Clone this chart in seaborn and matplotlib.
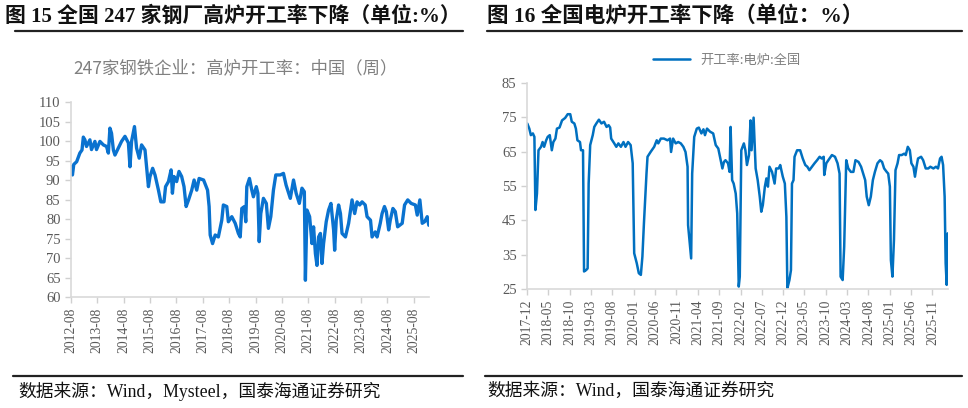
import matplotlib
matplotlib.use("Agg")
import matplotlib.pyplot as plt
import matplotlib.dates as mdates
import numpy as np
import pandas as pd
import seaborn as sns


# 247 steel mills, blast furnace utilisation (%), weekly
bf_years = [
	2012.58, 2012.64, 2012.69, 2012.80, 2012.92, 2013.00, 2013.05, 2013.11, 2013.17, 2013.30,
	2013.36, 2013.49, 2013.55, 2013.68, 2013.81, 2013.93, 2014.00, 2014.06, 2014.12, 2014.19,
	2014.25, 2014.38, 2014.50, 2014.63, 2014.76, 2014.82, 2014.88, 2014.99, 2015.07, 2015.17,
	2015.26, 2015.39, 2015.45, 2015.52, 2015.58, 2015.68, 2015.77, 2015.90, 2015.99, 2016.11,
	2016.17, 2016.28, 2016.38, 2016.43, 2016.49, 2016.59, 2016.68, 2016.78, 2016.87, 2016.95,
	2017.04, 2017.16, 2017.25, 2017.35, 2017.44, 2017.61, 2017.76, 2017.82, 2017.86, 2017.95,
	2018.05, 2018.17, 2018.30, 2018.36, 2018.49, 2018.55, 2018.68, 2018.81, 2018.93, 2019.00,
	2019.06, 2019.16, 2019.21, 2019.25, 2019.35, 2019.44, 2019.50, 2019.61, 2019.67, 2019.72,
	2019.78, 2019.88, 2019.99, 2020.07, 2020.16, 2020.26, 2020.35, 2020.52, 2020.64, 2020.74,
	2020.90, 2021.02, 2021.12, 2021.24, 2021.34, 2021.43, 2021.47, 2021.53, 2021.63, 2021.72,
	2021.78, 2021.85, 2021.91, 2021.97, 2022.04, 2022.10, 2022.16, 2022.26, 2022.35, 2022.44,
	2022.54, 2022.58, 2022.64, 2022.73, 2022.80, 2022.86, 2022.99, 2023.11, 2023.24, 2023.34,
	2023.43, 2023.53, 2023.62, 2023.74, 2023.81, 2023.94, 2024.00, 2024.12, 2024.19, 2024.31,
	2024.38, 2024.47, 2024.54, 2024.63, 2024.69, 2024.79, 2024.88, 2024.97, 2025.14, 2025.23,
	2025.35, 2025.48, 2025.64, 2025.71, 2025.81, 2025.90, 2025.99, 2026.09, 2026.15,
]
bf_rate = [
	93.5, 91.3, 94.0, 94.7, 96.9, 97.7, 101.0, 100.3, 98.6, 100.3,
	97.8, 99.9, 97.8, 99.9, 99.0, 98.6, 96.9, 103.3, 102.0, 97.7,
	96.4, 98.2, 99.9, 101.2, 99.5, 93.4, 99.9, 103.7, 98.2, 95.6,
	99.0, 97.7, 93.4, 88.3, 90.9, 93.0, 91.3, 87.4, 84.4, 84.4,
	88.3, 89.6, 92.6, 86.6, 90.9, 89.6, 92.2, 90.9, 88.3, 83.2,
	84.9, 87.4, 90.0, 87.4, 90.4, 90.0, 87.4, 83.2, 75.9, 73.7,
	75.9, 75.4, 79.7, 83.6, 83.2, 79.3, 80.6, 78.9, 76.3, 75.4,
	82.7, 83.2, 79.3, 88.3, 90.4, 87.4, 85.7, 88.3, 86.6, 74.2,
	81.4, 85.3, 84.0, 77.6, 80.6, 87.4, 91.3, 91.3, 91.7, 88.7,
	85.3, 90.0, 86.6, 84.0, 87.9, 87.0, 64.3, 82.3, 80.6, 73.7,
	78.0, 71.1, 68.1, 75.4, 76.3, 68.6, 73.7, 79.3, 82.3, 84.0,
	77.2, 72.0, 79.7, 83.6, 81.4, 76.3, 75.4, 78.9, 84.9, 81.4,
	84.4, 83.6, 84.4, 83.6, 80.6, 79.7, 75.4, 76.7, 75.4, 78.9,
	81.4, 83.2, 81.9, 77.2, 79.7, 82.7, 81.9, 78.0, 78.9, 83.6,
	84.9, 84.0, 83.6, 81.0, 84.9, 78.9, 79.3, 80.6, 78.4,
]

# electric furnace utilisation, national (%)
ef_years = [
	2017.92, 2017.96, 2017.99, 2018.03, 2018.06, 2018.08, 2018.11, 2018.14, 2018.19, 2018.22,
	2018.25, 2018.29, 2018.32, 2018.36, 2018.40, 2018.43, 2018.47, 2018.50, 2018.55, 2018.60,
	2018.66, 2018.71, 2018.76, 2018.79, 2018.84, 2018.87, 2018.90, 2018.95, 2018.97, 2019.01,
	2019.03, 2019.07, 2019.10, 2019.12, 2019.15, 2019.20, 2019.23, 2019.27, 2019.32, 2019.37,
	2019.42, 2019.47, 2019.51, 2019.54, 2019.56, 2019.62, 2019.66, 2019.70, 2019.75, 2019.80,
	2019.84, 2019.89, 2019.94, 2019.98, 2020.01, 2020.06, 2020.10, 2020.14, 2020.17, 2020.20,
	2020.25, 2020.27, 2020.33, 2020.40, 2020.45, 2020.48, 2020.53, 2020.59, 2020.66, 2020.71,
	2020.73, 2020.77, 2020.82, 2020.87, 2020.92, 2020.97, 2021.01, 2021.05, 2021.06, 2021.10,
	2021.12, 2021.14, 2021.18, 2021.23, 2021.27, 2021.32, 2021.36, 2021.39, 2021.43, 2021.49,
	2021.55, 2021.60, 2021.65, 2021.69, 2021.73, 2021.76, 2021.79, 2021.84, 2021.87, 2021.89,
	2021.92, 2021.95, 2021.99, 2022.02, 2022.05, 2022.07, 2022.10, 2022.15, 2022.18, 2022.21,
	2022.25, 2022.28, 2022.30, 2022.34, 2022.38, 2022.42, 2022.46, 2022.49, 2022.52, 2022.56,
	2022.59, 2022.62, 2022.65, 2022.70, 2022.75, 2022.78, 2022.83, 2022.86, 2022.91, 2022.95,
	2022.98, 2023.00, 2023.04, 2023.07, 2023.09, 2023.12, 2023.14, 2023.19, 2023.25, 2023.30,
	2023.35, 2023.39, 2023.43, 2023.48, 2023.53, 2023.58, 2023.63, 2023.67, 2023.71, 2023.72,
	2023.76, 2023.80, 2023.87, 2023.93, 2023.98, 2024.02, 2024.04, 2024.08, 2024.11, 2024.15,
	2024.19, 2024.24, 2024.29, 2024.33, 2024.39, 2024.44, 2024.48, 2024.52, 2024.55, 2024.59,
	2024.63, 2024.67, 2024.71, 2024.76, 2024.81, 2024.85, 2024.89, 2024.94, 2024.97, 2025.00,
	2025.02, 2025.05, 2025.08, 2025.11, 2025.15, 2025.18, 2025.23, 2025.28, 2025.31, 2025.35,
	2025.39, 2025.42, 2025.46, 2025.49, 2025.52, 2025.55, 2025.61, 2025.65, 2025.70, 2025.75,
	2025.79, 2025.85, 2025.90, 2025.94, 2025.98, 2026.01, 2026.04, 2026.07, 2026.09, 2026.11,
	2026.13,
]
ef_rate = [
	73.2, 71.7, 69.8, 70.3, 69.3, 48.0, 52.8, 65.4, 66.4, 67.8,
	66.4, 68.3, 69.3, 69.8, 65.4, 67.8, 68.8, 71.7, 72.0, 74.1,
	74.8, 75.9, 75.9, 73.7, 73.2, 71.7, 68.3, 67.8, 65.4, 65.4,
	30.1, 30.5, 31.0, 55.7, 66.9, 69.8, 72.2, 73.2, 74.3, 73.2,
	73.7, 72.2, 72.7, 72.0, 68.8, 67.4, 66.4, 67.4, 66.4, 67.8,
	66.4, 67.8, 66.9, 61.6, 35.4, 32.5, 29.6, 29.1, 34.4, 44.1,
	58.6, 63.5, 64.9, 66.4, 68.3, 67.4, 68.8, 68.8, 68.3, 68.8,
	64.9, 68.8, 67.4, 67.8, 67.4, 66.4, 64.9, 60.6, 43.6, 37.3,
	33.9, 58.6, 69.3, 71.7, 72.0, 70.3, 71.5, 69.8, 71.7, 70.8,
	70.3, 66.9, 65.9, 63.0, 60.1, 62.0, 62.5, 61.6, 59.1, 72.2,
	56.7, 55.7, 52.8, 47.0, 25.7, 28.6, 65.4, 67.4, 65.4, 61.1,
	64.0, 74.1, 65.4, 74.9, 60.1, 56.7, 51.9, 47.5, 49.4, 54.8,
	57.2, 54.8, 60.6, 59.1, 55.7, 60.1, 60.1, 61.1, 57.7, 55.7,
	46.0, 25.2, 27.6, 30.5, 55.7, 56.7, 63.5, 65.4, 65.4, 63.0,
	61.1, 60.6, 59.6, 60.6, 61.6, 62.5, 63.5, 63.0, 63.5, 58.2,
	61.6, 62.5, 64.0, 63.5, 61.6, 58.6, 28.6, 27.6, 37.3, 62.5,
	60.1, 59.1, 59.1, 62.5, 62.0, 60.6, 58.6, 56.7, 51.9, 49.4,
	51.9, 56.7, 59.1, 61.6, 62.5, 62.0, 60.1, 59.1, 58.6, 54.8,
	33.4, 28.6, 39.3, 59.6, 61.6, 64.0, 64.0, 64.4, 64.0, 66.4,
	65.4, 61.6, 60.6, 57.7, 60.6, 63.0, 63.5, 62.5, 60.1, 60.1,
	60.6, 60.1, 60.6, 60.1, 63.0, 63.5, 61.1, 51.9, 32.5, 26.2,
	41.2,
]

left_title = "图 15 全国 247 家钢厂高炉开工率下降（单位:%）"
right_title = "图 16 全国电炉开工率下降（单位：%）"
left_sub = "247家钢铁企业：高炉开工率：中国（周）"
right_legend = "开工率:电炉:全国"
left_src = "数据来源：Wind，Mysteel，国泰海通证券研究"
right_src = "数据来源：Wind，国泰海通证券研究"


def to_dates(years):
	out = []
	for y in years:
		yr = int(y)
		out.append(pd.Timestamp(year=yr, month=1, day=1) + pd.Timedelta(days=(y - yr) * 365.25))
	return out


def style_axis(ax, ymin, ymax, ystep, ticks):
	ax.set_ylim(ymin, ymax)
	ax.set_yticks(np.arange(ymin, ymax + 0.1, ystep))
	ax.set_xticks(ticks)
	ax.xaxis.set_major_formatter(mdates.DateFormatter("%Y-%m"))
	ax.set_xlabel("")
	ax.set_ylabel("")
	for s in ["top", "right"]:
		ax.spines[s].set_visible(False)
	for s in ["left", "bottom"]:
		ax.spines[s].set_color("#d9d9d9")
		ax.spines[s].set_linewidth(1.2)
	ax.tick_params(axis="both", colors="#d0d0d0", length=4, width=1, direction="out",
				   labelcolor="#595959", labelsize=10.5)
	ax.tick_params(axis="x", labelrotation=90, labelsize=9.8)
	for lab in ax.get_xticklabels() + ax.get_yticklabels():
		lab.set_family("Liberation Serif")
	ax.grid(False)


sns.set_style("ticks")
plt.rcParams["font.family"] = ["Liberation Serif", "Noto Sans CJK SC", "DejaVu Sans"]

fig = plt.figure(figsize=(9.68, 4.08), dpi=100)
ax1 = fig.add_axes([0.0733, 0.272, 0.370, 0.478])
ax2 = fig.add_axes([0.5444, 0.2917, 0.435, 0.505])

df1 = pd.DataFrame({"date": to_dates(bf_years), "rate": bf_rate})
df2 = pd.DataFrame({"date": to_dates(ef_years), "rate": ef_rate})

sns.lineplot(data=df1, x="date", y="rate", ax=ax1, color="#0a72cf", linewidth=2.4)
sns.lineplot(data=df2, x="date", y="rate", ax=ax2, color="#0070c0", linewidth=1.8,
			 label=right_legend)

ax1.set_xlim(pd.Timestamp("2012-08-01"), pd.Timestamp("2026-03-01"))
style_axis(ax1, 60, 110, 5, pd.date_range("2012-08-01", "2025-08-01", freq="12MS"))

ax2.set_xlim(pd.Timestamp("2017-12-01"), pd.Timestamp("2026-02-20"))
style_axis(ax2, 25, 85, 10, pd.date_range("2017-12-01", "2025-11-01", freq="5MS"))

leg = ax2.legend(loc="center", bbox_to_anchor=(0.475, 1.11), frameon=False,
				 handlelength=2.8, prop={"family": "Noto Sans CJK SC", "size": 9.5})
for t in leg.get_texts():
	t.set_color("#808080")

# headings
fig.text(0.005, 1 - 16 / 408, left_title, fontsize=15, fontweight="bold", va="center",
		 ha="left", color="#111111")
fig.text(0.503, 1 - 16 / 408, right_title, fontsize=15.5, fontweight="bold", va="center",
		 ha="left", color="#111111")
fig.text(236 / 968, 1 - 68 / 408, left_sub, fontsize=12.5, color="#808080", ha="center",
		 va="center", family=["Noto Sans CJK SC"])

# rules
for x0, x1 in [(15, 463), (487, 962)]:
	fig.add_artist(plt.Line2D([x0 / 968, x1 / 968], [1 - 31 / 408] * 2, color="#222222", lw=1.6))
	fig.add_artist(plt.Line2D([x0 / 968 - 0.002, x1 / 968], [1 - 376 / 408] * 2, color="#222222", lw=1.6))

fig.text(18 / 968, 1 - 391 / 408, left_src, fontsize=12.8, color="#111111", ha="left", va="center")
fig.text(487 / 968, 1 - 391 / 408, right_src, fontsize=12.8, color="#111111", ha="left", va="center")

fig.savefig("out.png", dpi=100)
